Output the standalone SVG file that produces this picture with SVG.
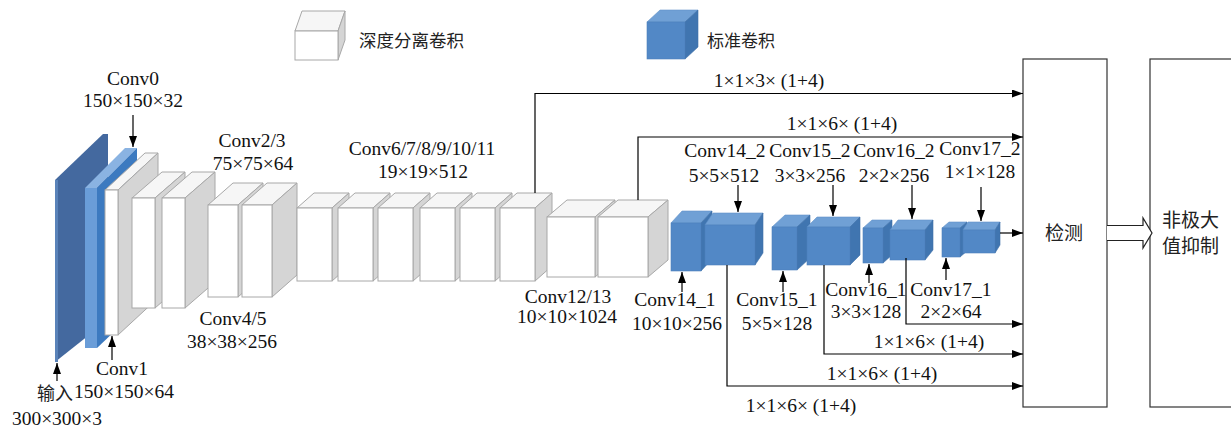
<svg xmlns="http://www.w3.org/2000/svg" width="1231" height="435" viewBox="0 0 1231 435">
<style>
.t{font-family:"Liberation Serif","Times New Roman",serif;font-size:19.5px;fill:#111;text-anchor:middle}
.c{font-family:"Noto Sans CJK SC","Noto Sans",sans-serif;font-size:19px;fill:#222}
.wf{fill:#fff;stroke:#a8a8a8;stroke-width:1}
.wt{fill:#f6f6f6;stroke:#a8a8a8;stroke-width:1}
.ws{fill:#d5d5d5;stroke:#a8a8a8;stroke-width:1}
.bf{fill:#5288c6;stroke:#4d80bb;stroke-width:0.6}
.bt{fill:#70a0d5;stroke:#6292ca;stroke-width:0.6}
.bs{fill:#4075b0;stroke:#3c6fa8;stroke-width:0.6}
.ln{fill:none;stroke:#000;stroke-width:1.2}
.ar{fill:none;stroke:#000;stroke-width:1.2;marker-end:url(#ah)}
.bx{fill:#fff;stroke:#333;stroke-width:1.2}
</style>
<defs>
<marker id="ah" markerUnits="userSpaceOnUse" markerWidth="12" markerHeight="8" refX="11" refY="4" orient="auto">
<path d="M0,0 L11,4 L0,8 z" fill="#000"/>
</marker>
</defs>

<g id="legend">
<g id="legend-dw">
<polygon class="wt" points="295,31 302,11 345,11 338,31"/>
<polygon class="ws" points="338,31 345,11 345,40 338,60"/>
<rect class="wf" x="295" y="31" width="43" height="29"/>
<text class="c" x="359" y="47" style="font-size:17.5px">深度分离卷积</text>
</g>
<g id="legend-std">
<polygon class="bt" points="647,22 660,10 698,10 685,22"/>
<polygon class="bs" points="685,22 698,10 698,47 685,59"/>
<rect class="bf" x="647" y="22" width="38" height="37"/>
<text class="c" x="707" y="47" style="font-size:17px">标准卷积</text>
</g>
</g>

<g id="input">
<polygon fill="#44699f" points="55,180 103,134 108,134 108,320 55,362"/>
<polygon fill="#5a83b9" points="55,180 58,180 58,362 55,362"/>
</g>

<g id="conv0">
<polygon fill="#8ab3e2" points="85,188 125,148 137,148 97,188"/>
<polygon fill="#3c7ac0" points="97,188 137,148 137,310 97,348"/>
<rect fill="#6a9dd8" x="85" y="188" width="12" height="160"/>
</g>

<g id="conv1">
<polygon class="wt" points="105,190 145,153 158,153 118,190"/>
<polygon class="ws" points="118,190 158,153 158,298 118,335"/>
<rect class="wf" x="105" y="190" width="13" height="145"/>
</g>

<g id="conv2">
<polygon class="wt" points="132,198 162,172 185,172 155,198"/>
<polygon class="ws" points="155,198 185,172 185,282 155,308"/>
<rect class="wf" x="132" y="198" width="23" height="110"/>
</g>
<g id="conv3">
<polygon class="wt" points="162,198 192,172 215,172 185,198"/>
<polygon class="ws" points="185,198 215,172 215,282 185,308"/>
<rect class="wf" x="162" y="198" width="23" height="110"/>
</g>
<g id="conv4">
<polygon class="wt" points="208,205 233,183 263,183 238,205"/>
<polygon class="ws" points="238,205 263,183 263,275 238,297"/>
<rect class="wf" x="208" y="205" width="30" height="92"/>
</g>
<g id="conv5">
<polygon class="wt" points="242,205 267,183 297,183 272,205"/>
<polygon class="ws" points="272,205 297,183 297,275 272,297"/>
<rect class="wf" x="242" y="205" width="30" height="92"/>
</g>

<g id="conv6">
<polygon class="wt" points="297,208 314,193 349,193 332,208"/>
<polygon class="ws" points="332,208 349,193 349,266 332,281"/>
<rect class="wf" x="297" y="208" width="35" height="73"/>
</g>
<g id="conv7">
<polygon class="wt" points="338,208 355,193 390,193 373,208"/>
<polygon class="ws" points="373,208 390,193 390,266 373,281"/>
<rect class="wf" x="338" y="208" width="35" height="73"/>
</g>
<g id="conv8">
<polygon class="wt" points="378,208 395,193 430,193 413,208"/>
<polygon class="ws" points="413,208 430,193 430,266 413,281"/>
<rect class="wf" x="378" y="208" width="35" height="73"/>
</g>
<g id="conv9">
<polygon class="wt" points="420,208 437,193 472,193 455,208"/>
<polygon class="ws" points="455,208 472,193 472,266 455,281"/>
<rect class="wf" x="420" y="208" width="35" height="73"/>
</g>
<g id="conv10">
<polygon class="wt" points="460,208 477,193 512,193 495,208"/>
<polygon class="ws" points="495,208 512,193 512,266 495,281"/>
<rect class="wf" x="460" y="208" width="35" height="73"/>
</g>
<g id="conv11">
<polygon class="wt" points="500,208 517,193 552,193 535,208"/>
<polygon class="ws" points="535,208 552,193 552,266 535,281"/>
<rect class="wf" x="500" y="208" width="35" height="73"/>
</g>

<g id="conv12">
<polygon class="wt" points="547,217 567,200 615,200 595,217"/>
<polygon class="ws" points="595,217 615,200 615,260 595,277"/>
<rect class="wf" x="547" y="217" width="48" height="60"/>
</g>
<g id="conv13">
<polygon class="wt" points="598,217 618,200 668,200 648,217"/>
<polygon class="ws" points="648,217 668,200 668,260 648,277"/>
<rect class="wf" x="598" y="217" width="50" height="60"/>
</g>

<g id="conv14_1">
<polygon class="bt" points="671,223 682,211 712,211 701,223"/>
<polygon class="bs" points="701,223 712,211 712,259 701,271"/>
<rect class="bf" x="671" y="223" width="30" height="48"/>
</g>
<g id="conv14_2">
<polygon class="bt" points="705,225 713,213 763,213 755,225"/>
<polygon class="bs" points="755,225 763,213 763,253 755,265"/>
<rect class="bf" x="705" y="225" width="50" height="40"/>
</g>
<g id="conv15_1">
<polygon class="bt" points="772,227 785,215 810,215 797,227"/>
<polygon class="bs" points="797,227 810,215 810,258 797,270"/>
<rect class="bf" x="772" y="227" width="25" height="43"/>
</g>
<g id="conv15_2">
<polygon class="bt" points="807,227 817,217 860,217 850,227"/>
<polygon class="bs" points="850,227 860,217 860,255 850,265"/>
<rect class="bf" x="807" y="227" width="43" height="38"/>
</g>
<g id="conv16_1">
<polygon class="bt" points="863,228 872,220 892,220 883,228"/>
<polygon class="bs" points="883,228 892,220 892,255 883,263"/>
<rect class="bf" x="863" y="228" width="20" height="35"/>
</g>
<g id="conv16_2">
<polygon class="bt" points="890,230 898,220 933,220 925,230"/>
<polygon class="bs" points="925,230 933,220 933,250 925,260"/>
<rect class="bf" x="890" y="230" width="35" height="30"/>
</g>
<g id="conv17_1">
<polygon class="bt" points="942,228 949,222 967,222 960,228"/>
<polygon class="bs" points="960,228 967,222 967,251 960,257"/>
<rect class="bf" x="942" y="228" width="18" height="29"/>
</g>
<g id="conv17_2">
<polygon class="bt" points="963,230 968,222 1000,222 995,230"/>
<polygon class="bs" points="995,230 1000,222 1000,245 995,253"/>
<rect class="bf" x="963" y="230" width="32" height="23"/>
</g>

<g id="detect">
<rect class="bx" x="1023" y="59" width="84" height="348"/>
<text class="c" x="1064" y="240" text-anchor="middle">检测</text>
</g>
<g id="nms">
<rect class="bx" x="1150" y="59" width="100" height="348"/>
<text class="c" x="1162" y="227">非极大</text>
<text class="c" x="1162" y="253">值抑制</text>
</g>

<g id="connectors">
<path class="ar" d="M133,115 V147"/>
<path class="ar" d="M112,360 V336"/>
<path class="ar" d="M57,381 V363"/>
<path class="ar" d="M535,193 V93.5 H1023"/>
<path class="ar" d="M638,200 V137 H1023"/>
<path class="ar" d="M738,185 V212"/>
<path class="ar" d="M833,185 V216"/>
<path class="ar" d="M912,185 V219"/>
<path class="ar" d="M981,187 V221"/>
<path class="ar" d="M682,292 V272"/>
<path class="ar" d="M783,292 V271"/>
<path class="ar" d="M869,283 V264"/>
<path class="ar" d="M946,280 V258"/>
<path class="ar" d="M1000,233 H1023"/>
<path class="ar" d="M906,258 V324 H1023"/>
<path class="ar" d="M824,265 V354 H1023"/>
<path class="ar" d="M727,265 V386 H1023"/>
<path fill="#fff" stroke="#222" stroke-width="1.2" d="M1107,225.5 H1143 V218 L1152,233 L1143,248 V240.5 H1107"/>
</g>

<g id="labels">
<text class="t" x="133" y="85">Conv0</text>
<text class="t" x="133" y="107">150×150×32</text>
<text class="t" x="122" y="375">Conv1</text>
<text class="t" x="124" y="398">150×150×64</text>
<text class="c" x="55" y="400" text-anchor="middle" style="font-size:18px">输入</text>
<text class="t" x="57" y="425">300×300×3</text>
<text class="t" x="252" y="147">Conv2/3</text>
<text class="t" x="253" y="170">75×75×64</text>
<text class="t" x="233" y="325">Conv4/5</text>
<text class="t" x="232" y="348">38×38×256</text>
<text class="t" x="422" y="155">Conv6/7/8/9/10/11</text>
<text class="t" x="423" y="178">19×19×512</text>
<text class="t" x="568" y="303">Conv12/13</text>
<text class="t" x="567" y="323">10×10×1024</text>
<text class="t" x="769" y="87">1×1×3× (1+4)</text>
<text class="t" x="842" y="130">1×1×6× (1+4)</text>
<text class="t" x="725" y="157">Conv14_2</text>
<text class="t" x="724" y="182">5×5×512</text>
<text class="t" x="810" y="157">Conv15_2</text>
<text class="t" x="810" y="182">3×3×256</text>
<text class="t" x="894" y="157">Conv16_2</text>
<text class="t" x="894" y="182">2×2×256</text>
<text class="t" x="980" y="155">Conv17_2</text>
<text class="t" x="980" y="178">1×1×128</text>
<text class="t" x="675" y="306">Conv14_1</text>
<text class="t" x="677" y="330">10×10×256</text>
<text class="t" x="777" y="306">Conv15_1</text>
<text class="t" x="777" y="330">5×5×128</text>
<text class="t" x="866" y="296">Conv16_1</text>
<text class="t" x="866" y="318">3×3×128</text>
<text class="t" x="951" y="296">Conv17_1</text>
<text class="t" x="951" y="318">2×2×64</text>
<text class="t" x="929" y="348">1×1×6× (1+4)</text>
<text class="t" x="882" y="380">1×1×6× (1+4)</text>
<text class="t" x="801" y="412">1×1×6× (1+4)</text>
</g>
</svg>
